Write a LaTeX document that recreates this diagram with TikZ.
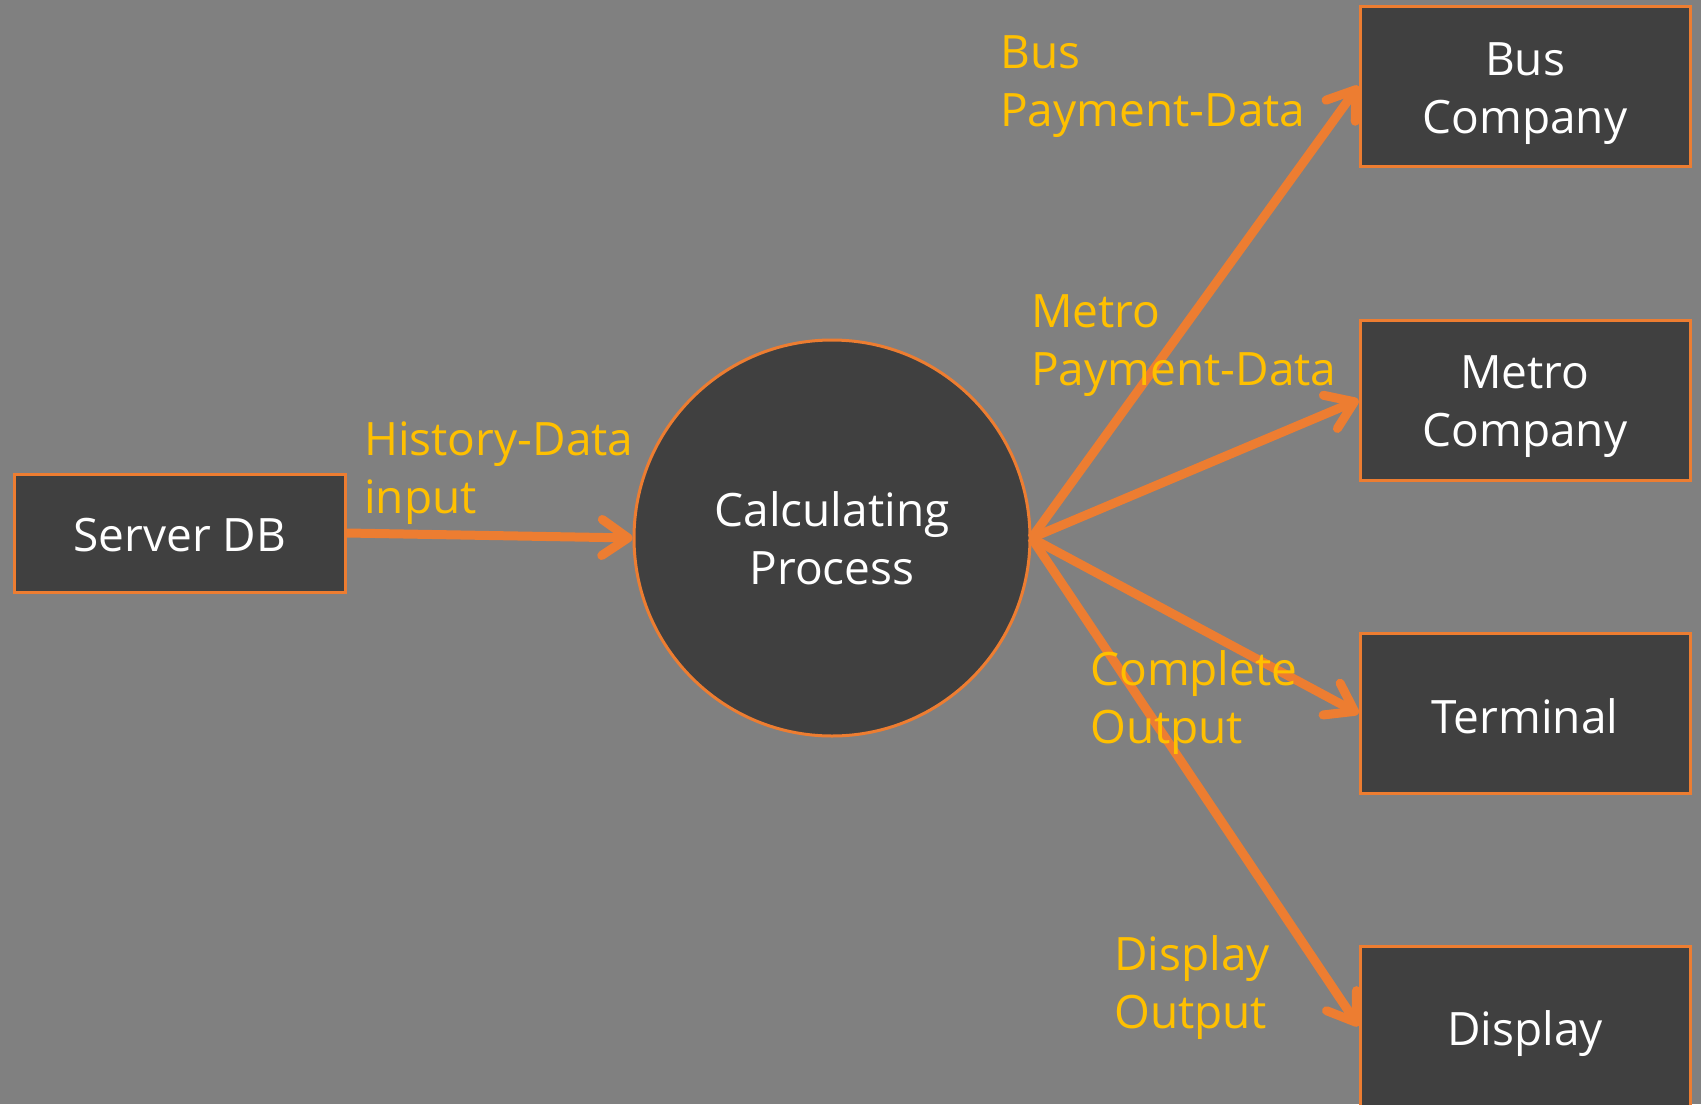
\documentclass[tikz,border=0pt]{standalone}
\usepackage{fontspec}
\setmainfont{Open Sans}
\usetikzlibrary{arrows.meta}
\definecolor{bgc}{HTML}{808080}
\definecolor{boxfill}{HTML}{404040}
\definecolor{lineor}{HTML}{ED7D31}
\definecolor{lblc}{HTML}{FFC000}
\begin{document}
\begin{tikzpicture}[x=1pt, y=-1pt,
  font=\fontsize{46}{58}\selectfont,
  entity/.style={draw=lineor, line width=3pt, fill=boxfill,
    minimum width=330pt, minimum height=160pt, inner sep=0pt},
  enttext/.style={align=center, text=white, inner sep=0pt},
  procc/.style={circle, draw=lineor, line width=3pt, fill=boxfill, text=white,
    minimum size=396pt, align=center, inner sep=0pt},
  flow/.style={draw=lineor, line width=9pt,
    -{Straight Barb[length=26pt, width=36pt, round]}},
  flowlbl/.style={text=lblc, anchor=base west, inner sep=0pt}]
\useasboundingbox (0,0) rectangle (1701,1104);
\fill[bgc] (0,0) rectangle (1701,1104);

\node[entity, minimum width=331pt, minimum height=118pt,
  label={[enttext, yshift=-2pt]center:Server DB}] (sdb) at (180,533) {};
\node[procc] (cp) at (832,538) {Calculating\\Process};
\node[entity, label={[enttext, yshift=-8pt]center:Bus\\Company}] (bus) at (1525,86) {};
\node[entity, label={[enttext, yshift=-7pt]center:Metro\\Company}] (metro) at (1525,400) {};
\node[entity, label={[enttext, yshift=-3pt]center:Terminal}] (term) at (1525,713.5) {};
\node[entity, label={[enttext, yshift=-8pt]center:Display}] (disp) at (1525,1026) {};

\draw[flow] (sdb.east) -- (cp.west);
\draw[flow] (cp.east) -- (bus.west);
\draw[flow] (cp.east) -- (metro.west);
\draw[flow] (cp.east) -- (term.west);
\draw[flow] (cp.east) -- (disp.west);

\node[flowlbl] (lhist) at (364,455) {\begin{tabular}[t]{@{}l@{}}History-Data\\input\end{tabular}};
\node[flowlbl] (lbus) at (1000,68) {\begin{tabular}[t]{@{}l@{}}Bus\\Payment-Data\end{tabular}};
\node[flowlbl] (lmetro) at (1031,327) {\begin{tabular}[t]{@{}l@{}}Metro\\Payment-Data\end{tabular}};
\node[flowlbl] (lcomp) at (1090,685) {\begin{tabular}[t]{@{}l@{}}Complete\\Output\end{tabular}};
\node[flowlbl] (ldisp) at (1114,970) {\begin{tabular}[t]{@{}l@{}}Display\\Output\end{tabular}};
\end{tikzpicture}
\end{document}
